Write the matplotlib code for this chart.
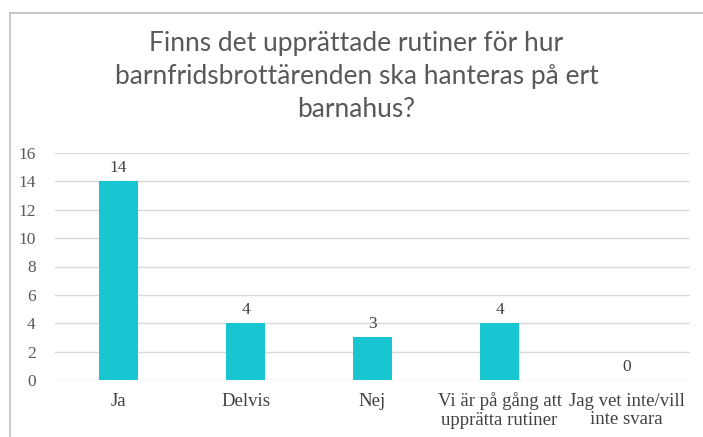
import matplotlib.pyplot as plt
from matplotlib.lines import Line2D

# Chart data
categories = ['Ja', 'Delvis', 'Nej', 'Vi är på gång att\nupprätta rutiner', 'Jag vet inte/vill\ninte svara']
values = [14, 4, 3, 4, 0]
yticks = [0, 2, 4, 6, 8, 10, 12, 14, 16]
title = 'Finns det upprättade rutiner för hur\nbarnfridsbrottärenden ska hanteras på ert\nbarnahus?'

W, H = 703, 437
fig = plt.figure(figsize=(W / 100, H / 100), dpi=100)

# Axes placement in pixels (left, bottom from top)
left, right, top, bottom = 55, 690, 153, 380
ax = fig.add_axes([left / W, 1 - bottom / H, (right - left) / W, (bottom - top) / H])

x = list(range(len(categories)))
ax.bar(x, values, width=0.31, color='#17C6D1', zorder=3)

# Value labels above bars
for i, v in enumerate(values):
    ax.text(i, v + 0.35, str(v), ha='center', va='bottom',
            fontsize=12.5, family='Liberation Serif', color='#404040')

ax.set_xlim(-0.5, len(categories) - 0.5)
ax.set_ylim(0, 16)
ax.set_yticks(yticks)
ax.set_yticklabels([str(t) for t in yticks], family='Liberation Serif', fontsize=12.5, color='#595959')
ax.set_xticks(x)
ax.set_xticklabels(categories, family='Liberation Serif', fontsize=13.5, color='#404040')
for lbl in ax.get_xticklabels():
    lbl.set_linespacing(1.15)
ax.tick_params(axis='both', length=0)
ax.tick_params(axis='x', pad=9)
ax.tick_params(axis='y', pad=14)
ax.grid(axis='y', color='#D9D9D9', linewidth=1, zorder=0)
for s in ax.spines.values():
    s.set_visible(False)

# Title
fig.text(0.5 * (W + 10) / W, 1 - 31 / H, title, ha='center', va='top',
         fontsize=19, family='Lato', color='#595959', linespacing=1.4)

# Outer chart frame (top and left edges visible)
fig.add_artist(Line2D([10 / W, 1], [1 - 13 / H, 1 - 13 / H], transform=fig.transFigure, color='#BFBFBF', lw=1.2))
fig.add_artist(Line2D([10 / W, 10 / W], [0, 1 - 13 / H], transform=fig.transFigure, color='#BFBFBF', lw=1.2))

fig.savefig('out.png', dpi=100)
